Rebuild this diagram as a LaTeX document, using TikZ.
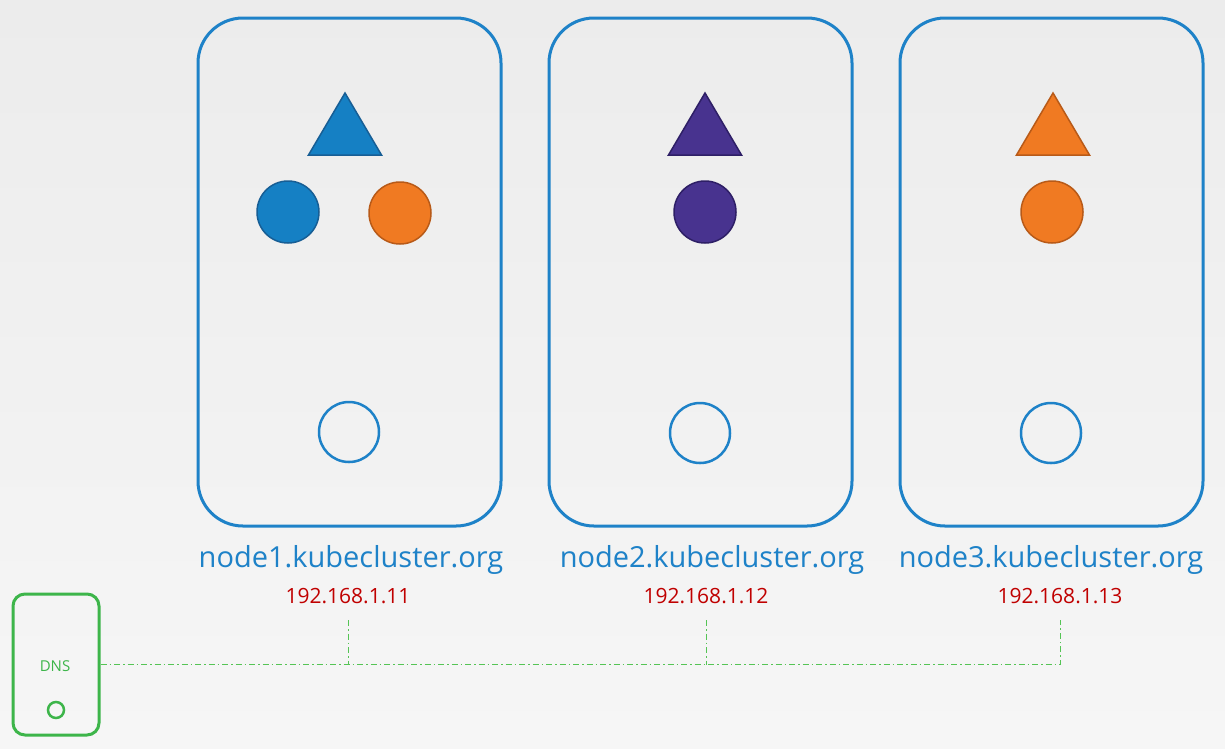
\documentclass[tikz,border=0pt]{standalone}
\usepackage{fontspec}
\setmainfont{Open Sans}
\definecolor{bgtop}{HTML}{ECECEC}
\definecolor{bgbot}{HTML}{F6F6F6}
\definecolor{kblue}{HTML}{1E82C8}
\definecolor{tblue}{HTML}{1580C4}
\definecolor{tbluedk}{HTML}{175E95}
\definecolor{korange}{HTML}{F07A22}
\definecolor{korangedk}{HTML}{B85A18}
\definecolor{kpurple}{HTML}{48338F}
\definecolor{kpurpledk}{HTML}{2E1F66}
\definecolor{kred}{HTML}{C00000}
\definecolor{kgreen}{HTML}{3DB54A}
\definecolor{kgreenl}{HTML}{55C455}
\begin{document}
\begin{tikzpicture}[x=1pt,y=-1pt,
  hostbox/.style={draw=kblue,line width=3pt,rounded corners=45pt,minimum width=303pt,minimum height=508pt,inner sep=0pt},
  pod/.style={circle,minimum size=62pt,inner sep=0pt,line width=1.5pt},
  svc/.style={line width=1.5pt,line join=miter},
  port/.style={circle,draw=kblue,line width=2.5pt,minimum size=60pt,inner sep=0pt},
  hostname/.style={text=kblue,font=\fontsize{29}{32}\selectfont,inner sep=0pt,anchor=base},
  ip/.style={text=kred,font=\fontsize{21}{24}\selectfont,inner sep=0pt,anchor=base},
  link/.style={draw=kgreenl,line width=1pt,dash pattern=on 6pt off 3pt on 1.5pt off 3pt}
]
\shade[top color=bgtop,bottom color=bgbot] (0,0) rectangle (1225,748);
\useasboundingbox (0,0) rectangle (1225,748);
% host boxes
\node[hostbox] (h1) at (349.5,272) {};
\node[hostbox] (h2) at (700.5,272) {};
\node[hostbox] (h3) at (1051.5,272) {};
% services (triangles)
\path[svc,fill=tblue,draw=tbluedk] (345,93) -- ++(36.5,62) -- ++(-73,0) -- cycle;
\path[svc,fill=kpurple,draw=kpurpledk] (705,93) -- ++(36.5,62) -- ++(-73,0) -- cycle;
\path[svc,fill=korange,draw=korangedk] (1053,93) -- ++(36.5,62) -- ++(-73,0) -- cycle;
% pods
\node[pod,fill=tblue,draw=tbluedk] (p1a) at (288,212) {};
\node[pod,fill=korange,draw=korangedk] (p1b) at (400,213) {};
\node[pod,fill=kpurple,draw=kpurpledk] (p2) at (705,212) {};
\node[pod,fill=korange,draw=korangedk] (p3) at (1052,212) {};
% ports
\node[port] (o1) at (349,432) {};
\node[port] (o2) at (700,433) {};
\node[port] (o3) at (1051,433) {};
% labels
\node[hostname] (n1) at (351,567) {node1.kubecluster.org};
\node[hostname] (n2) at (712,567) {node2.kubecluster.org};
\node[hostname] (n3) at (1051,567) {node3.kubecluster.org};
\node[ip] (i1) at (348,603) {192.168.1.11};
\node[ip] (i2) at (706,603) {192.168.1.12};
\node[ip] (i3) at (1060,603) {192.168.1.13};
% DNS
\node[draw=kgreen,line width=3pt,rounded corners=12pt,minimum width=86pt,minimum height=141pt,inner sep=0pt] (dns) at (56,664.5) {};
\node[text=kgreen,font=\fontsize{15}{17}\selectfont,inner sep=0pt,anchor=base] (dnsl) at (55,671) {DNS};
\node[circle,draw=kgreen,line width=2.5pt,minimum size=16pt,inner sep=0pt] (dnso) at (56,710) {};
% connectors
\coordinate (c1) at (348,620);
\coordinate (c2) at (706,620);
\coordinate (c3) at (1060,620);
\draw[link] (dns.east) -- (c3 |- dns.east) -- (c3);
\draw[link] (c1) -- (c1 |- dns.east);
\draw[link] (c2) -- (c2 |- dns.east);
\end{tikzpicture}
\end{document}
